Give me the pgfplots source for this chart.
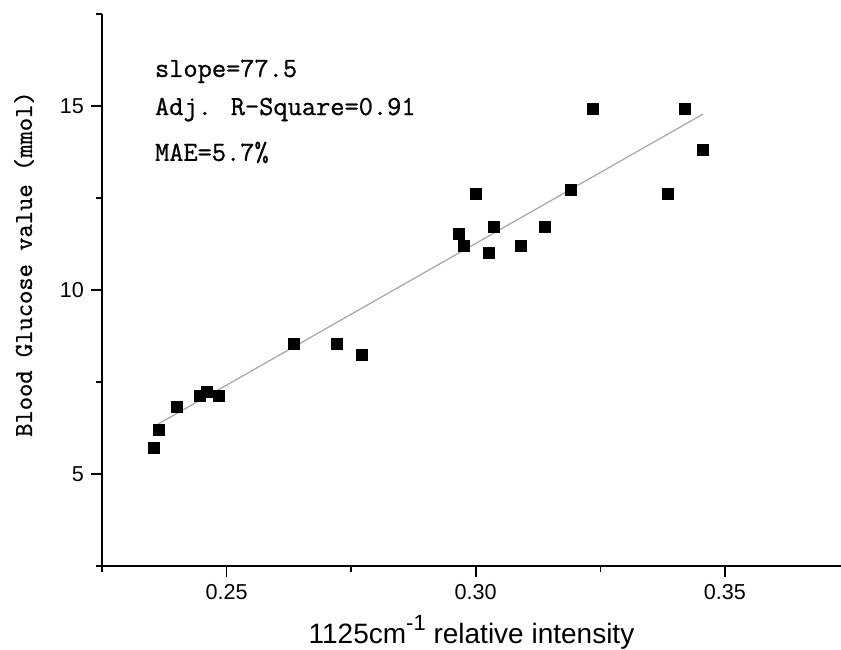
\documentclass[border=0pt]{standalone}
\usepackage{fontspec}
\setmainfont{Liberation Sans}
\newfontfamily\mymono{Latin Modern Mono}[FakeBold=0.9]
\usepackage{pgfplots}
\pgfplotsset{compat=1.18}
\begin{document}
\begin{tikzpicture}
\begin{axis}[
  scale only axis, width=369.5pt, height=276pt,
  xmin=0.225, xmax=0.3733, ymin=2.5, ymax=17.5,
  axis x line=bottom, axis y line=left,
  axis line style={-, line width=0.8pt},
  xtick={0.25,0.30,0.35}, xticklabels={0.25,0.30,0.35},
  minor xtick={0.225,0.275,0.325},
  ytick={5,10,15}, minor ytick={2.5,7.5,12.5,17.5},
  tick align=outside, major tick length=5.5pt, minor tick length=3pt,
  every tick/.style={black, line width=0.8pt},
  /pgf/number format/assume math mode=true,
  ticklabel style={font=\fontsize{10.8}{12}\selectfont},
  xlabel={1125cm\raisebox{0.45em}{\fontsize{11}{12}\selectfont -1} relative intensity},
  every axis x label/.style={at={(axis description cs:0.5,0)}, anchor=base, yshift=-38.5pt, font=\fontsize{14}{16}\selectfont},
  ylabel={Blood Glucose value (mmol)},
  every axis y label/.style={at={(axis description cs:-0.1055,0.547)}, rotate=90, anchor=center, font=\mymono\fontsize{12.9}{14}\selectfont},
]
\addplot[only marks, mark=square*, mark size=2.75pt, black] coordinates {
(0.2354,5.71) (0.2365,6.21) (0.2401,6.81) (0.2446,7.13) (0.2460,7.22)
(0.2485,7.13) (0.2635,8.53) (0.2721,8.53) (0.2772,8.23) (0.2967,11.52)
(0.2977,11.21) (0.3001,12.61) (0.3026,11.02) (0.3037,11.72) (0.3091,11.21)
(0.3139,11.72) (0.3191,12.72) (0.3236,14.91) (0.3386,12.61) (0.3419,14.91)
(0.3456,13.80)
};
\addplot[gray!70, line width=0.6pt] coordinates {(0.2354,6.29) (0.3456,14.78)};
\node[anchor=base west, font=\mymono\fontsize{13.8}{15}\selectfont] at (rel axis cs:0.0622,0.886) {slope=77.5};
\node[anchor=base west, font=\mymono\fontsize{13.8}{15}\selectfont] at (rel axis cs:0.0622,0.817) {Adj. R-Square=0.91};
\node[anchor=base west, font=\mymono\fontsize{13.8}{15}\selectfont] at (rel axis cs:0.0622,0.734) {MAE=5.7\%};
\end{axis}
\pgfresetboundingbox
\path (current axis.south west) ++(-51pt,-41.5pt) rectangle ++(420.5pt,324.5pt);
\end{tikzpicture}
\end{document}
